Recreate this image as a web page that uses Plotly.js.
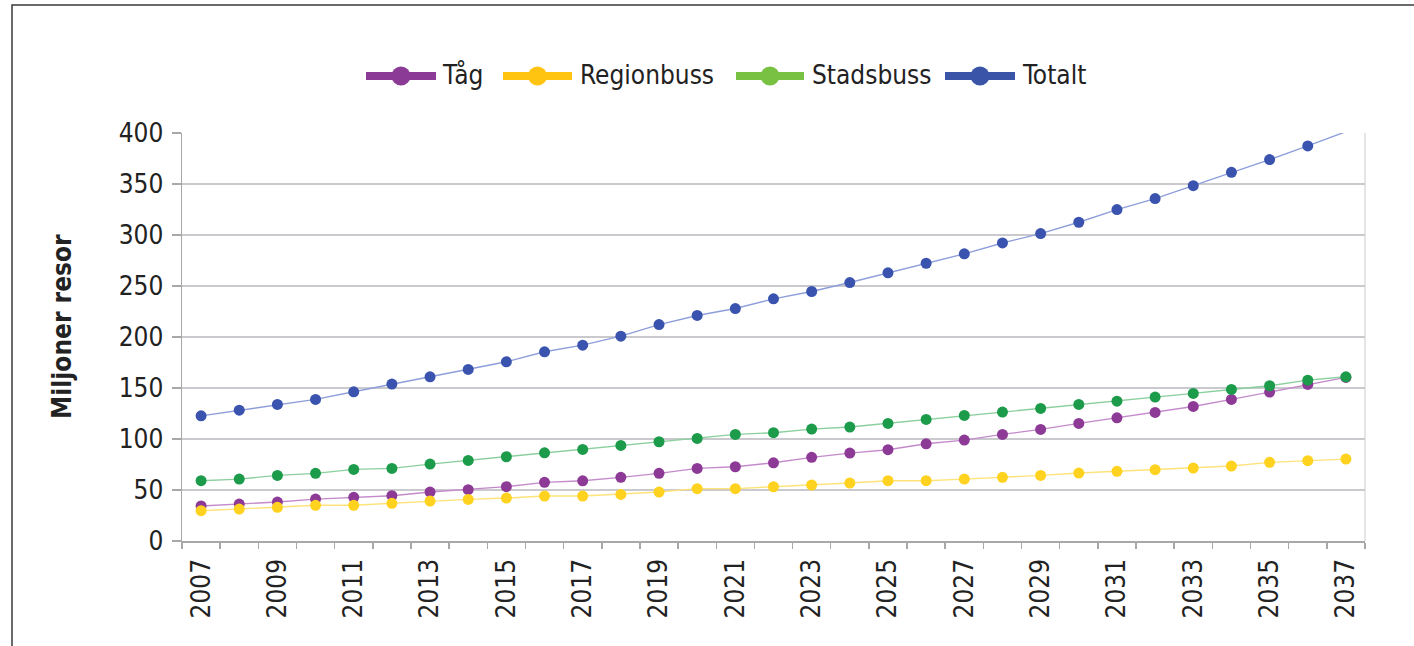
<!DOCTYPE html>
<html>
<head>
<meta charset="utf-8">
<script src="https://cdn.plot.ly/plotly-3.0.1.min.js"></script>
<style>
html,body{margin:0;padding:0;background:#fff;}
#chart{width:1414px;height:646px;}
</style>
</head>
<body>
<div id="chart"></div>
<script>
// ---- data ----
const years = [2007,2008,2009,2010,2011,2012,2013,2014,2015,2016,2017,2018,2019,2020,2021,2022,2023,2024,2025,2026,2027,2028,2029,2030,2031,2032,2033,2034,2035,2036,2037];
const tickYears = [2007,2009,2011,2013,2015,2017,2019,2021,2023,2025,2027,2029,2031,2033,2035,2037];
const seriesNames = ["Tåg","Regionbuss","Stadsbuss","Totalt"];
const tag = [34.3,36.2,38.2,41.1,42.8,44.4,48.0,50.3,53.3,57.5,59.0,62.4,66.3,71.2,72.8,76.7,82.0,86.2,89.5,95.3,98.9,104.5,109.4,115.3,120.8,126.1,131.9,138.8,146.0,153.5,160.4];
const regionbuss = [29.7,31.3,33.0,35.0,35.0,36.9,39.2,40.8,42.1,44.1,44.1,45.7,48.0,51.3,51.3,53.2,54.9,56.8,59.1,59.1,60.7,62.4,64.3,66.6,68.3,69.9,71.5,73.5,77.1,78.7,80.3];
const stadsbuss = [59.1,60.7,64.3,66.3,70.2,71.2,75.4,79.0,82.6,86.5,89.8,93.7,97.3,100.6,104.5,106.2,109.7,111.7,115.3,119.2,123.1,126.4,130.0,133.9,137.1,141.1,144.7,148.6,152.2,157.7,161.0];
const totalt = [122.7,128.3,133.9,138.8,146.3,153.8,161.0,168.2,175.7,185.5,192.0,200.8,212.2,221.1,227.9,237.4,244.6,253.4,262.9,272.3,281.5,292.2,301.4,312.5,324.9,335.7,348.4,361.5,373.9,387.3,401.3];
const seriesValues = [tag, regionbuss, stadsbuss, totalt];

// ---- styles ----
const markerColors = ["#8D3A97","#FFD21F","#1C9B4A","#3953AE"];
const lineColors   = ["#C48BCB","#FFE37A","#8BCF9E","#8E9EDA"];
const legendColors = ["#8B3A96","#FFC40F","#78C142","#3A55A8"];

const W=1414,H=646,L=182,R=49,T=133,B=105;
const PW=W-L-R, PH=H-T-B;
const px = x => (x-L)/PW;
const py = y => (H-B-y)/PH;
const FONT = "DejaVu Sans Condensed, Liberation Sans Narrow, sans-serif";
const TICKSIZE = 26;

const traces = seriesValues.map((vals,i)=>({
  type:"scatter", mode:"lines+markers", name:seriesNames[i],
  x:years, y:vals,
  line:{color:lineColors[i], width:1.4},
  marker:{color:markerColors[i], size:11},
  cliponaxis:false, showlegend:false
}));

// manual legend (layout decoration)
const legendPos = [
  {x0:366,x1:436,tx:440},
  {x0:503,x1:572,tx:578},
  {x0:736,x1:804,tx:810},
  {x0:945,x1:1015,tx:1020}
];
const legY = 76;
const shapes = [
  {type:"rect", xref:"paper", yref:"paper", x0:px(12), x1:px(1440), y0:py(5), y1:py(680),
   line:{color:"#3a3a3a", width:1.5}, fillcolor:"rgba(0,0,0,0)", layer:"below"}
];
const annotations = [
  {xref:"paper", yref:"paper", x:px(62), y:py(327), text:"<b>Miljoner resor</b>", showarrow:false,
   textangle:-90, xanchor:"center", yanchor:"middle",
   font:{family:"DejaVu Sans Condensed, sans-serif", size:26, color:"#222"}}
];
legendPos.forEach((p,i)=>{
  shapes.push({type:"line", xref:"paper", yref:"paper", x0:px(p.x0), x1:px(p.x1), y0:py(legY), y1:py(legY),
    line:{color:legendColors[i], width:8}});
  const cx=(p.x0+p.x1)/2, r=9.5;
  shapes.push({type:"circle", xref:"paper", yref:"paper", x0:px(cx-r), x1:px(cx+r), y0:py(legY+r), y1:py(legY-r),
    fillcolor:legendColors[i], line:{width:0}});
  annotations.push({xref:"paper", yref:"paper", x:px(p.tx), y:py(legY-1), text:seriesNames[i], showarrow:false,
    xanchor:"left", yanchor:"middle", font:{family:FONT, size:26, color:"#222"}});
});
// right border of plot area (light)
shapes.push({type:"line", xref:"paper", yref:"paper", x0:1, x1:1, y0:0, y1:1, line:{color:"#DCDCDC", width:1.5}, layer:"below"});

const layout = {
  width:W, height:H,
  margin:{l:L, r:R, t:T, b:B, pad:0},
  paper_bgcolor:"#fff", plot_bgcolor:"#fff",
  showlegend:false,
  font:{family:FONT, color:"#222"},
  xaxis:{
    type:"linear", range:[2006.5,2037.5], tickmode:"array", tickvals:tickYears,
    tickangle:-90, tickfont:{family:FONT, size:TICKSIZE, color:"#222"},
    ticks:"outside", ticklen:6, tickcolor:"rgba(0,0,0,0)",
    minor:{tick0:2006.5, dtick:1, ticks:"outside", ticklen:6, tickcolor:"#A8A8A8", tickwidth:1.5, showgrid:false},
    showgrid:false, zeroline:false, showline:true, linecolor:"#A8A8A8", linewidth:1.5, mirror:false,
    fixedrange:true
  },
  yaxis:{
    range:[0,400], tickmode:"linear", tick0:0, dtick:50,
    tickfont:{family:FONT, size:TICKSIZE, color:"#222"},
    ticks:"outside", ticklen:9, tickcolor:"#A8A8A8", tickwidth:1.5,
    ticklabelstandoff:3,
    showgrid:true, gridcolor:"#C9C9CE", gridwidth:1.5,
    zeroline:false, showline:true, linecolor:"#A8A8A8", linewidth:1.5, mirror:false,
    fixedrange:true
  },
  shapes:shapes,
  annotations:annotations
};

Plotly.newPlot("chart", traces, layout, {displayModeBar:false, staticPlot:true});
</script>
</body>
</html>
